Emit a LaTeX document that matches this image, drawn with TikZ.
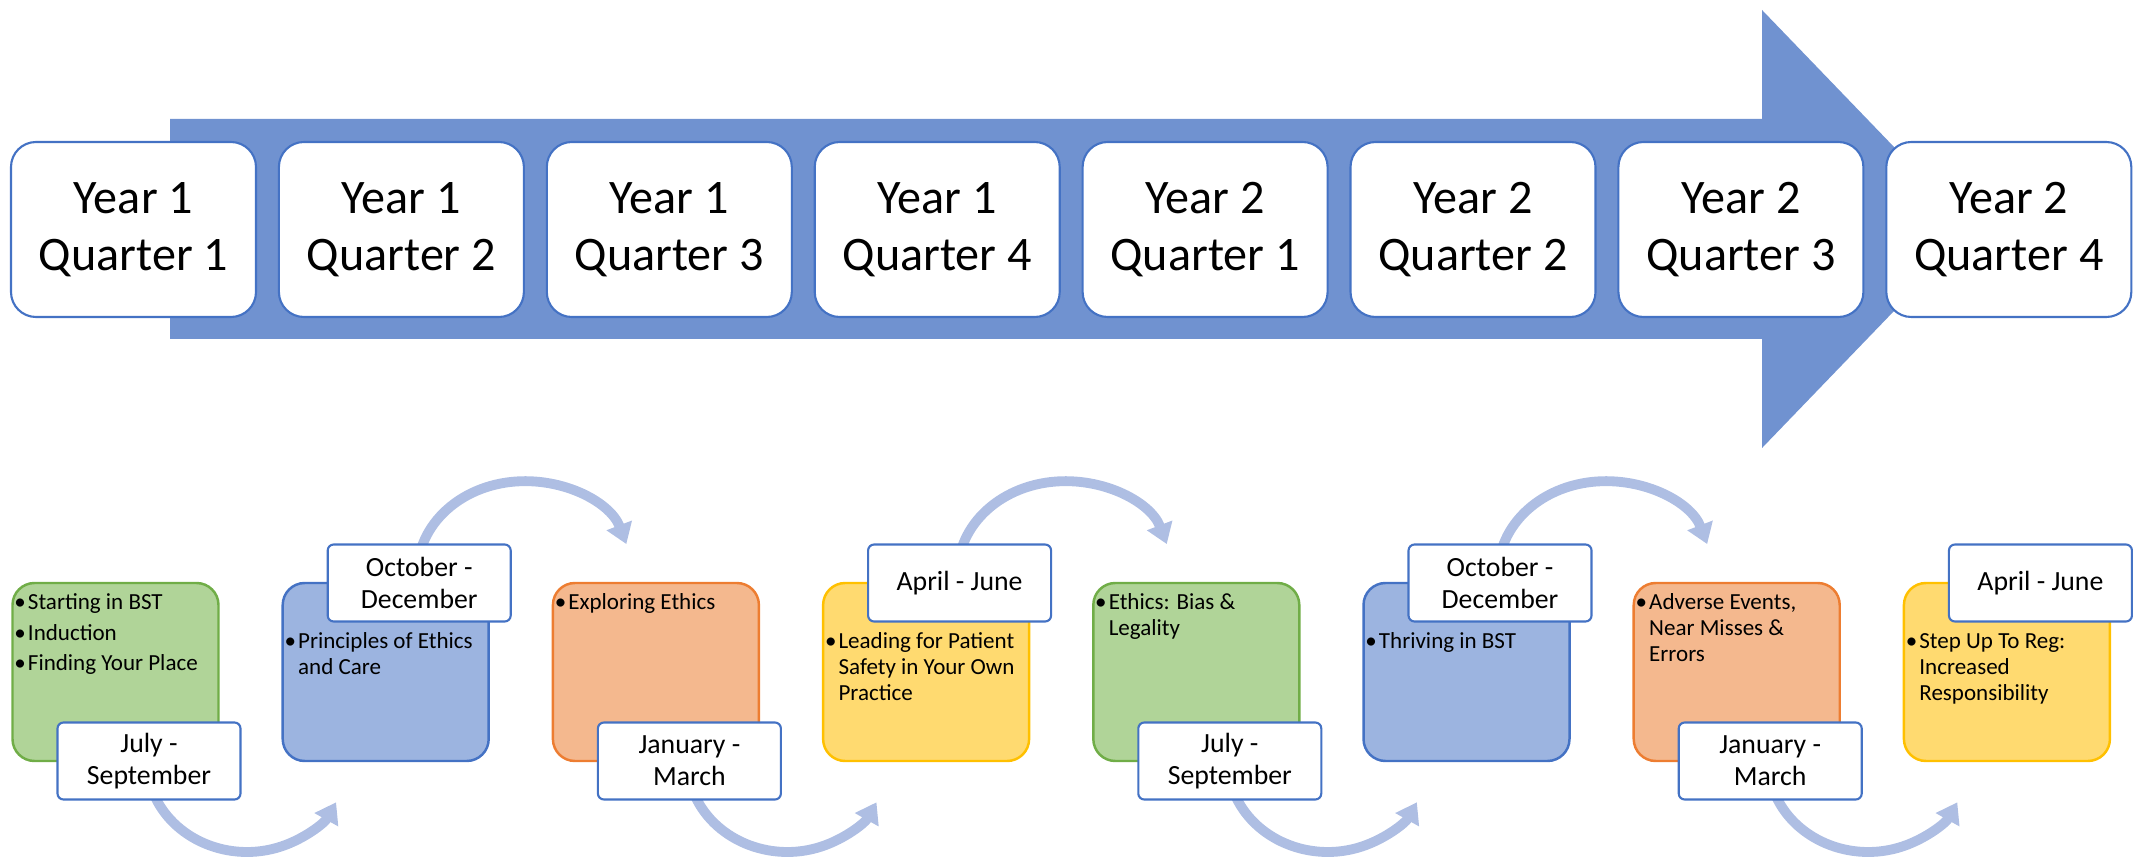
\documentclass[tikz,border=0pt]{standalone}
\usepackage{fontspec}
\setmainfont{Carlito}
\usetikzlibrary{arrows.meta}
\definecolor{arrowblue}{RGB}{112,146,208}
\definecolor{edgeblue}{RGB}{68,114,196}
\definecolor{arcblue}{RGB}{174,190,227}
\definecolor{gfill}{RGB}{176,212,152}
\definecolor{gline}{RGB}{112,173,71}
\definecolor{bfill}{RGB}{156,180,224}
\definecolor{bline}{RGB}{68,114,196}
\definecolor{ofill}{RGB}{244,184,142}
\definecolor{oline}{RGB}{237,125,49}
\definecolor{yfill}{RGB}{255,218,112}
\definecolor{yline}{RGB}{255,192,0}
\newcommand\bl{\llap{•\kern0.6pt}}
\newcommand\fst{\rule{0pt}{5.2pt}}
\begin{document}
\begin{tikzpicture}[
  qbox/.style={draw=edgeblue, line width=0.6pt, fill=white, rounded corners=0.25cm,
    minimum width=2.45cm, minimum height=1.75cm, inner sep=0pt, align=center,
    font=\fontsize{13.7}{16.2}\selectfont},
  tbox/.style={line width=0.7pt, rounded corners=0.22cm, minimum width=2.06cm,
    minimum height=1.78cm, inner sep=0pt},
  gbox/.style={tbox, draw=gline, fill=gfill},
  bbox/.style={tbox, draw=bline, fill=bfill},
  obox/.style={tbox, draw=oline, fill=ofill},
  ybox/.style={tbox, draw=yline, fill=yfill},
  lbl/.style={draw=edgeblue, line width=0.6pt, fill=white, rounded corners=0.06cm,
    minimum width=1.83cm, minimum height=0.77cm, inner sep=0pt, align=center,
    font=\fontsize{7.9}{9.1}\selectfont},
  btxt/.style={anchor=north west, inner sep=0pt, align=left,
    font=\fontsize{6.55}{7.4}\selectfont},
  flow/.style={draw=arcblue, line width=2.8pt, -{Triangle[width=0.26cm,length=0.2cm]}},
]
\useasboundingbox (0,0) rectangle (21.34,8.60);

% big arrow
\fill[arrowblue] (1.70,7.41) -- (17.62,7.41) -- (17.62,8.50) -- (19.73,6.31)
  -- (17.62,4.12) -- (17.62,5.21) -- (1.70,5.21) -- cycle;

% quarter boxes
\node[qbox] (q1) at (1.335,6.305) {Year 1\\Quarter 1};
\node[qbox] (q2) at (4.014,6.305) {Year 1\\Quarter 2};
\node[qbox] (q3) at (6.693,6.305) {Year 1\\Quarter 3};
\node[qbox] (q4) at (9.372,6.305) {Year 1\\Quarter 4};
\node[qbox] (q5) at (12.051,6.305) {Year 2\\Quarter 1};
\node[qbox] (q6) at (14.730,6.305) {Year 2\\Quarter 2};
\node[qbox] (q7) at (17.409,6.305) {Year 2\\Quarter 3};
\node[qbox] (q8) at (20.088,6.305) {Year 2\\Quarter 4};

% coordinates for label centres (used by the flow arcs)
\coordinate (cA) at (1.490,0.99);
\coordinate (cB) at (4.192,2.77);
\coordinate (cC) at (6.894,0.99);
\coordinate (cD) at (9.596,2.77);
\coordinate (cE) at (12.298,0.99);
\coordinate (cF) at (15.000,2.77);
\coordinate (cG) at (17.702,0.99);
\coordinate (cH) at (20.404,2.77);

% flow arcs (drawn first, their starts are hidden under the labels)
\draw[flow] ([shift={(0.04,-0.311)}]cA) arc[start angle=200, end angle=333, x radius=1.0, y radius=0.91];
\draw[flow] ([shift={(0.04,-0.311)}]cC) arc[start angle=200, end angle=333, x radius=1.0, y radius=0.91];
\draw[flow] ([shift={(0.04,-0.311)}]cE) arc[start angle=200, end angle=333, x radius=1.0, y radius=0.91];
\draw[flow] ([shift={(0.04,-0.311)}]cG) arc[start angle=200, end angle=333, x radius=1.0, y radius=0.91];
\draw[flow] ([shift={(0,-0.05)}]cB) arc[start angle=190, end angle=18, x radius=1.07, y radius=0.91];
\draw[flow] ([shift={(0,-0.05)}]cD) arc[start angle=190, end angle=18, x radius=1.07, y radius=0.91];
\draw[flow] ([shift={(0,-0.05)}]cF) arc[start angle=190, end angle=18, x radius=1.07, y radius=0.91];

% coloured content boxes
\node[gbox] (bA) at (1.155,1.88) {};
\node[bbox] (bB) at (3.857,1.88) {};
\node[obox] (bC) at (6.559,1.88) {};
\node[ybox] (bD) at (9.261,1.88) {};
\node[gbox] (bE) at (11.963,1.88) {};
\node[bbox] (bF) at (14.665,1.88) {};
\node[obox] (bG) at (17.367,1.88) {};
\node[ybox] (bH) at (20.069,1.88) {};

% bullet texts
\node[btxt] (tA) at ([shift={(0.16,-0.09)}]bA.north west) {\fst\bl Starting in BST\\[1.3pt]\bl Induction\\[1.3pt]\bl Finding Your Place};
\node[btxt] (tB) at ([shift={(0.16,-0.48)}]bB.north west) {\fst\bl Principles of Ethics\\and Care};
\node[btxt] (tC) at ([shift={(0.16,-0.09)}]bC.north west) {\fst\bl Exploring Ethics};
\node[btxt] (tD) at ([shift={(0.16,-0.48)}]bD.north west) {\fst\bl Leading for Patient\\Safety in Your Own\\Practice};
\node[btxt] (tE) at ([shift={(0.16,-0.09)}]bE.north west) {\fst\bl Ethics: Bias \&\\Legality};
\node[btxt] (tF) at ([shift={(0.16,-0.48)}]bF.north west) {\fst\bl Thriving in BST};
\node[btxt] (tG) at ([shift={(0.16,-0.09)}]bG.north west) {\fst\bl Adverse Events,\\Near Misses \&\\Errors};
\node[btxt] (tH) at ([shift={(0.16,-0.48)}]bH.north west) {\fst\bl Step Up To Reg:\\Increased\\Responsibility};

% date labels
\node[lbl] (lA) at (cA) {July -\\September};
\node[lbl] (lB) at (cB) {October -\\December};
\node[lbl] (lC) at (cC) {January -\\March};
\node[lbl] (lD) at (cD) {April - June};
\node[lbl] (lE) at (cE) {July -\\September};
\node[lbl] (lF) at (cF) {October -\\December};
\node[lbl] (lG) at (cG) {January -\\March};
\node[lbl] (lH) at (cH) {April - June};
\end{tikzpicture}
\end{document}
